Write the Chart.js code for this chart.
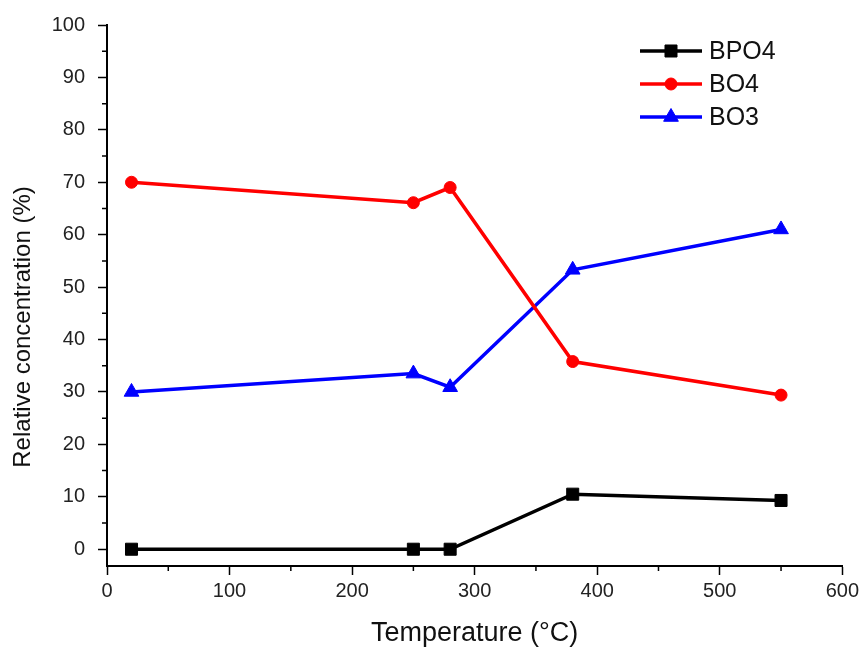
<!DOCTYPE html>
<html>
<head>
<meta charset="utf-8">
<script src="https://cdn.jsdelivr.net/npm/chart.js@4"></script>
<style>
    html, body { margin: 0; padding: 0; background: #fff; }
    #wrap { width: 863px; height: 647px; }
</style>
</head>
<body>
<div id="wrap"><canvas id="conc-chart"></canvas></div>
<script>
// data
const temperatures = [20, 250, 280, 380, 550];
const bpo4 = [0, 0, 0, 10.5, 9.3];
const bo4 = [70, 66.1, 69, 35.8, 29.4];
const bo3 = [30, 33.5, 30.9, 53.3, 61];
const xTicks = [0, 100, 200, 300, 400, 500, 600];
const yTicks = [0, 10, 20, 30, 40, 50, 60, 70, 80, 90, 100];
const xMinor = [50, 150, 250, 350, 450, 550];
const yMinor = [5, 15, 25, 35, 45, 55, 65, 75, 85, 95];

const FONT = 'Liberation Sans, Arial, sans-serif';

const toPoints = (ys) => temperatures.map((t, i) => ({ x: t, y: ys[i] }));

// minor ticks like the original plotting software
const minorTicks = {
    id: 'minorTicks',
    afterDraw(chart) {
        const ctx = chart.ctx;
        const xs = chart.scales.x;
        const ys = chart.scales.y;
        ctx.save();
        ctx.strokeStyle = '#000';
        ctx.lineWidth = 1.5;
        ctx.beginPath();
        xMinor.forEach((v) => {
            const px = xs.getPixelForValue(v);
            ctx.moveTo(px, xs.top);
            ctx.lineTo(px, xs.top + 5);
        });
        yMinor.forEach((v) => {
            const py = ys.getPixelForValue(v);
            ctx.moveTo(ys.right, py);
            ctx.lineTo(ys.right - 5, py);
        });
        ctx.stroke();
        ctx.restore();
    },
};

// y title sits a bit lower than the plot centre in the original
const yTitle = {
    id: 'yTitle',
    afterDraw(chart) {
        const ctx = chart.ctx;
        ctx.save();
        ctx.translate(23, 327);
        ctx.rotate(-Math.PI / 2);
        ctx.fillStyle = '#111';
        ctx.font = '24px ' + FONT;
        ctx.textAlign = 'center';
        ctx.textBaseline = 'middle';
        ctx.fillText('Relative concentration (%)', 0, 0);
        ctx.restore();
    },
};

// legend box inside the plot, top right
const insideLegend = {
    id: 'insideLegend',
    afterDraw(chart) {
        const ctx = chart.ctx;
        const x0 = 640;
        const y0 = 51;
        const rowH = 33;
        ctx.save();
        chart.data.datasets.forEach((ds, i) => {
            const y = y0 + i * rowH;
            ctx.strokeStyle = ds.borderColor;
            ctx.lineWidth = 3.5;
            ctx.beginPath();
            ctx.moveTo(x0, y);
            ctx.lineTo(x0 + 62, y);
            ctx.stroke();
            ctx.fillStyle = ds.backgroundColor;
            ctx.lineWidth = 1;
            Chart.helpers.drawPoint(ctx, {
                pointStyle: ds.pointStyle,
                radius: ds.pointRadius,
                borderWidth: 1,
            }, x0 + 31, y);
            ctx.fillStyle = '#111';
            ctx.font = '25px ' + FONT;
            ctx.textBaseline = 'middle';
            ctx.fillText(ds.label, x0 + 69, y + 1);
        });
        ctx.restore();
    },
};

const graph = document.getElementById('conc-chart');

const config = {
    type: 'line',
    data: {
        datasets: [
            {
                label: 'BPO4',
                data: toPoints(bpo4),
                borderColor: '#000000',
                backgroundColor: '#000000',
                pointStyle: 'rect',
                pointRadius: 8.5,
            },
            {
                label: 'BO4',
                data: toPoints(bo4),
                borderColor: '#ff0000',
                backgroundColor: '#ff0000',
                pointStyle: 'circle',
                pointRadius: 6,
            },
            {
                label: 'BO3',
                data: toPoints(bo3),
                borderColor: '#0000ff',
                backgroundColor: '#0000ff',
                pointStyle: 'triangle',
                pointRadius: 8.5,
            },
        ],
    },
    options: {
        responsive: true,
        maintainAspectRatio: false,
        animation: false,
        elements: {
            line: { borderWidth: 3.5, tension: 0 },
            point: { borderWidth: 1 },
        },
        layout: { padding: { top: 24, right: 20, left: 0, bottom: 0 } },
        plugins: {
            legend: { display: false },
            title: { display: false },
            tooltip: { enabled: false },
        },
        scales: {
            x: {
                type: 'linear',
                min: 0,
                max: 600,
                afterBuildTicks: (scale) => {
                    scale.ticks = xTicks.map((v) => ({ value: v }));
                },
                afterFit: (scale) => {
                    scale.height = 81;
                },
                border: { display: true, color: '#000', width: 2 },
                grid: { drawOnChartArea: false, tickLength: 9, color: '#000', tickWidth: 1.5 },
                ticks: { color: '#222', font: { size: 20, family: FONT }, padding: 4, maxRotation: 0 },
                title: {
                    display: true,
                    text: 'Temperature (°C)',
                    color: '#111',
                    font: { size: 27, family: FONT, lineHeight: 1 },
                    padding: { top: 0, bottom: 0 },
                },
            },
            y: {
                type: 'linear',
                min: -3.2,
                max: 100,
                afterBuildTicks: (scale) => {
                    scale.ticks = yTicks.map((v) => ({ value: v }));
                },
                afterFit: (scale) => {
                    scale.width = 107;
                },
                border: { display: true, color: '#000', width: 2 },
                grid: { drawOnChartArea: false, tickLength: 9, color: '#000', tickWidth: 1.5 },
                ticks: { color: '#222', font: { size: 20, family: FONT }, padding: 13 },
                title: { display: false },
            },
        },
    },
    plugins: [minorTicks, yTitle, insideLegend],
};

new Chart(graph, config);
</script>
</body>
</html>
